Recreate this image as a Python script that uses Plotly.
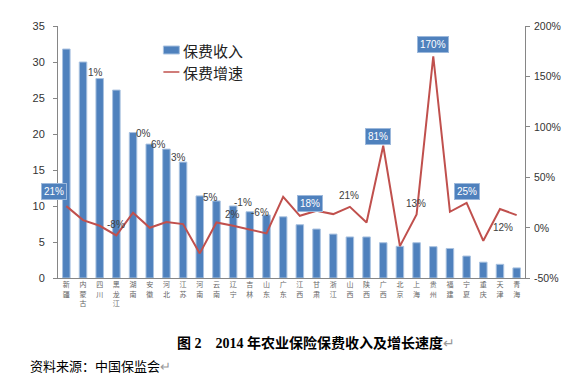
import plotly.graph_objects as go

# ---------------- data ----------------
provinces = ["新疆", "内蒙古", "四川", "黑龙江", "湖南", "安徽", "河北", "江苏", "河南", "云南",
             "辽宁", "吉林", "山东", "广东", "江西", "甘肃", "浙江", "山西", "陕西", "广西",
             "北京", "上海", "贵州", "福建", "宁夏", "重庆", "天津", "青海"]
premium = [31.8, 30.0, 27.7, 26.1, 20.2, 18.6, 17.9, 16.1, 11.4, 10.7,
           10.0, 9.2, 8.75, 8.5, 7.4, 6.8, 6.1, 5.7, 5.7, 4.9,
           4.4, 4.9, 4.35, 4.1, 3.05, 2.2, 1.9, 1.4]
growth = [21.3, 7.4, 1.8, -7.8, 14.7, -0.2, 5.5, 3.5, -25.6, 5.1,
          1.8, -1.8, -5.8, 30.6, 11.7, 16.7, 13.4, 20.6, 5.1, 81.2,
          -18.4, 13.1, 170.0, 15.7, 24.6, -13.1, 18.4, 12.4]

# growth labels as printed on the chart
label_text = ["21%", "1%", "-8%", "0%", "6%", "3%", "5%", "2%", "-1%", "-6%",
              "18%", "21%", "81%", "13%", "170%", "25%", "12%"]
label_cat = ["新疆", "四川", "黑龙江", "湖南", "安徽", "江苏", "云南", "辽宁", "辽宁", "吉林",
             "江西", "山西", "广西", "上海", "贵州", "宁夏", "天津"]
label_boxed = [True, False, False, False, False, False, False, False, False, False,
               True, False, True, False, True, True, False]
# label placement (y on the growth axis, horizontal pixel shift)
label_y = [35.7, 154, 3.5, 93.5, 82.8, 69.6, 30.3, 13.4, 25, 15.1,
           24, 32.2, 90.8, 24, 181.7, 35.5, 0.2]
label_dx = [-12, -4, 0, 10, 9, -4.5, -6, -0.5, 10, 10.5,
            10.5, -1, -5.5, -0.5, 0, 0, 3]

left_ticks = [0, 5, 10, 15, 20, 25, 30, 35]
right_ticks = [-50, 0, 50, 100, 150, 200]
right_ticktext = ["-50%", "0%", "50%", "100%", "150%", "200%"]

# ---------------- layout geometry ----------------
W, H = 563, 375
L, R, T, B = 57.5, 525, 26, 278


def px(x):
    return (x - L) / (R - L)


def py(y):
    return (B - y) / (B - T)


BLUE = "#4F81BD"
RED = "#C0504D"
AXIS = "#868686"
TXT = "#333333"

fig = go.Figure()
fig.add_trace(go.Bar(
    x=provinces, y=premium, name="保费收入",
    marker=dict(color=BLUE, line=dict(color="#A9C2E0", width=1)),
    yaxis="y",
))
fig.add_trace(go.Scatter(
    x=provinces, y=growth, name="保费增速", mode="lines",
    line=dict(color=RED, width=2),
    yaxis="y2",
))

ann = []
for t, c, bx, yv, dx in zip(label_text, label_cat, label_boxed, label_y, label_dx):
    if bx:
        ann.append(dict(x=c, y=yv, xref="x", yref="y2", text=t, showarrow=False,
                        xshift=dx, font=dict(size=10, color="white", family="Liberation Sans, Arial"),
                        bgcolor=BLUE, bordercolor="#9DB9DC", borderwidth=1, borderpad=2))
    else:
        ann.append(dict(x=c, y=yv, xref="x", yref="y2", text=t, showarrow=False,
                        xshift=dx, font=dict(size=10, color="#404040", family="Liberation Sans, Arial")))

# custom legend
shapes = [
    dict(type="rect", xref="paper", yref="paper", x0=px(163), x1=px(179), y0=py(54), y1=py(46),
         fillcolor=BLUE, line=dict(color="#A9C2E0", width=1)),
    dict(type="line", xref="paper", yref="paper", x0=px(163), x1=px(179), y0=py(72), y1=py(72),
         line=dict(color=RED, width=1.5)),
]
ann.append(dict(x=px(181), y=py(50), xref="paper", yref="paper", text="保费收入", showarrow=False,
                xanchor="left", yanchor="middle", font=dict(size=15, color="#222", family="Noto Sans CJK SC")))
ann.append(dict(x=px(181), y=py(72), xref="paper", yref="paper", text="保费增速", showarrow=False,
                xanchor="left", yanchor="middle", font=dict(size=15, color="#222", family="Noto Sans CJK SC")))

# right axis tick labels (drawn as text so they sit close to the axis)
for v, t in zip(right_ticks, right_ticktext):
    ann.append(dict(x=px(532), y=v, xref="paper", yref="y2", text=t, showarrow=False,
                    xanchor="left", yanchor="middle",
                    font=dict(size=10.5, color=TXT, family="Liberation Sans, Arial")))

# caption and source
ann.append(dict(x=px(316), y=py(343), xref="paper", yref="paper",
                text="<b>图 2    2014 年农业保险保费收入及增长速度</b><span style='color:#999'>↵</span>",
                showarrow=False, xanchor="center", yanchor="middle",
                font=dict(size=14, color="#000", family="Liberation Serif, Noto Sans CJK SC")))
ann.append(dict(x=px(27), y=py(365), xref="paper", yref="paper",
                text="资料来源：中国保监会<span style='color:#999'>↵</span>",
                showarrow=False, xanchor="left", yanchor="middle",
                font=dict(size=13, color="#000", family="Noto Sans CJK SC")))

fig.update_layout(
    width=W, height=H,
    margin=dict(l=L, r=W - R, t=T, b=H - B),
    paper_bgcolor="white", plot_bgcolor="white",
    showlegend=False,
    bargap=0.55,
    xaxis=dict(
        type="category", range=[-0.5, len(provinces) - 0.5],
        tickvals=provinces,
        ticktext=["<br>".join(list(p)) for p in provinces],
        tickfont=dict(size=7, color="#666", family="Noto Sans CJK SC"),
        showline=True, linecolor=AXIS, linewidth=1, ticks="", showgrid=False,
        zeroline=False,
    ),
    yaxis=dict(
        range=[0, 35], tickvals=left_ticks,
        tickfont=dict(size=11, color=TXT, family="Liberation Sans, Arial"),
        showline=True, linecolor=AXIS, linewidth=1, ticks="outside", ticklen=4,
        tickcolor=AXIS, showgrid=False, zeroline=False, ticklabelstandoff=6,
    ),
    yaxis2=dict(
        range=[-50, 200], tickvals=right_ticks, showticklabels=False,
        overlaying="y", side="right",
        showline=True, linecolor=AXIS, linewidth=1, ticks="outside", ticklen=4,
        tickcolor=AXIS, showgrid=False, zeroline=False,
    ),
    annotations=ann,
    shapes=shapes,
)

fig.write_html("out.html", config={"displayModeBar": False},
               post_script="document.body.style.margin='0';document.body.style.padding='0';")
